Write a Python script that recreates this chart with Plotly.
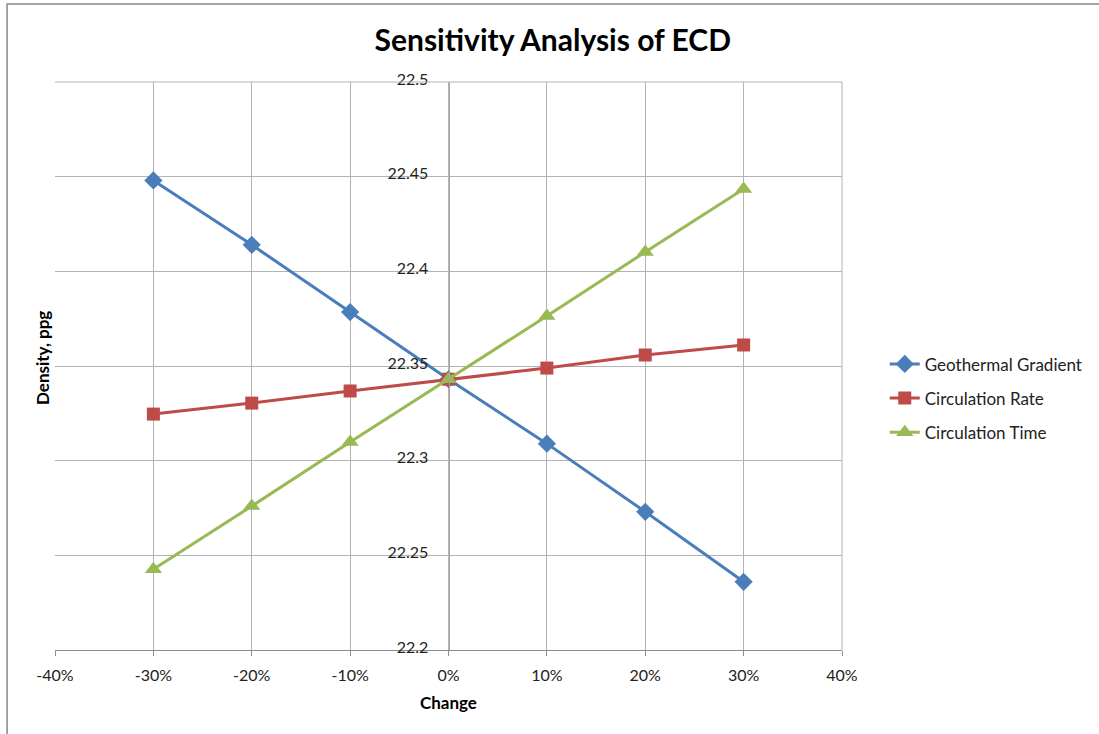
import plotly.graph_objects as go

changes = [-0.30, -0.20, -0.10, 0.0, 0.10, 0.20, 0.30]
geothermal_gradient = [22.448, 22.414, 22.3785, 22.343, 22.309, 22.273, 22.236]
circulation_rate = [22.3246, 22.3304, 22.3368, 22.343, 22.3489, 22.3558, 22.3611]
circulation_time = [22.2427, 22.276, 22.3098, 22.343, 22.3764, 22.4102, 22.4435]

x_tick_vals = [-0.4, -0.3, -0.2, -0.1, 0.0, 0.1, 0.2, 0.3, 0.4]
x_tick_text = ["-40%", "-30%", "-20%", "-10%", "0%", "10%", "20%", "30%", "40%"]

series = [
    ("Geothermal Gradient", geothermal_gradient, "#4A7EBB", "diamond", 14),
    ("Circulation Rate", circulation_rate, "#BE4B48", "square", 13),
    ("Circulation Time", circulation_time, "#98B954", "triangle-up", 15),
]

FONT = "Lato, Calibri, sans-serif"

fig = go.Figure()
for i, (name, vals, color, sym, size) in enumerate(series):
    fig.add_trace(go.Scatter(
        x=changes, y=vals, name=name, mode="lines+markers",
        line=dict(color=color, width=3),
        marker=dict(symbol=sym, size=size, color=color),
        legendgroup=f"g{i}",
    ))

fig.update_layout(
    width=1099, height=734,
    margin=dict(l=55, r=256, t=82, b=84),
    paper_bgcolor="white", plot_bgcolor="white",
    font=dict(family=FONT, size=16, color="#222222"),
    title=dict(text="<b>Sensitivity Analysis of ECD</b>", x=0.503, xanchor="center",
               y=1 - 40 / 734, yanchor="middle", font=dict(size=30, color="black", family=FONT)),
    showlegend=True,
    legend=dict(x=1.053, y=0.443, xanchor="left", yanchor="middle",
                traceorder="grouped", tracegroupgap=9,
                font=dict(size=17, color="#222222", family=FONT),
                bgcolor="rgba(0,0,0,0)"),
    xaxis=dict(range=[-0.4, 0.4], tickvals=x_tick_vals, ticktext=x_tick_text,
               showgrid=True, gridcolor="#B3B3B3", gridwidth=1,
               showline=True, linecolor="#8C8C8C", linewidth=1,
               ticks="outside", ticklen=5, tickcolor="#8C8C8C",
               ticklabelstandoff=6,
               zeroline=False, tickfont=dict(size=16, color="#222222")),
    yaxis=dict(range=[22.2, 22.5], dtick=0.05, tick0=22.2,
               anchor="free", position=0.5,
               showgrid=True, gridcolor="#B3B3B3", gridwidth=1,
               showline=True, linecolor="#A6A6A6", linewidth=1,
               ticks="", ticklabelstandoff=17, ticklabelshift=-3,
               zeroline=False, tickfont=dict(size=16, color="#222222")),
    shapes=[
        dict(type="rect", xref="paper", yref="paper",
             x0=(7 - 55) / 788, x1=(1200 - 55) / 788,
             y0=(650 - 800) / 568, y1=(650 - 4) / 568,
             line=dict(color="#868686", width=1.5), fillcolor="rgba(0,0,0,0)", layer="below"),
        dict(type="line", xref="paper", yref="paper", x0=1, x1=1, y0=0, y1=1,
             line=dict(color="#B3B3B3", width=1)),
        dict(type="line", xref="paper", yref="paper", x0=0, x1=1, y0=1, y1=1,
             line=dict(color="#B3B3B3", width=1)),
    ],
    annotations=[
        dict(text="<b>Density, ppg</b>", xref="paper", yref="paper",
             x=(42 - 55) / 788, y=(650 - 358) / 568, textangle=-90,
             showarrow=False, xanchor="center", yanchor="middle",
             font=dict(size=17, color="black", family=FONT)),
        dict(text="<b>Change</b>", xref="x", yref="paper",
             x=0, y=(650 - 702) / 568, showarrow=False,
             xanchor="center", yanchor="middle",
             font=dict(size=17, color="black", family=FONT)),
    ],
)

fig.write_html("out.html")
